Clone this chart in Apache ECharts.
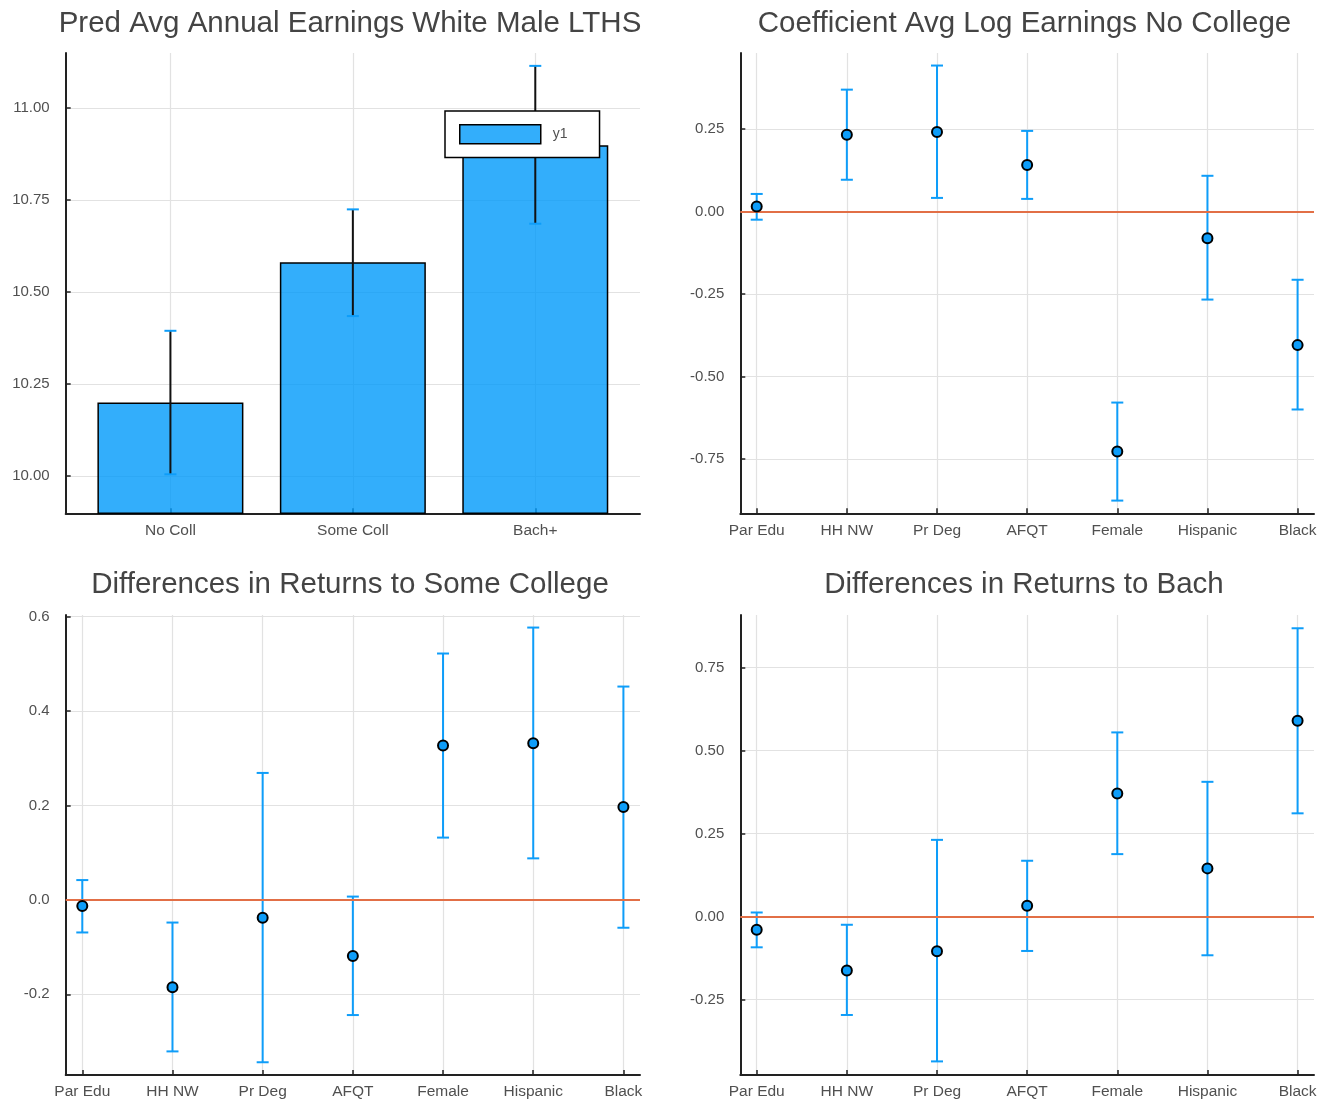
<!DOCTYPE html>
<html>
<head>
<meta charset="utf-8">
<script src="https://cdn.jsdelivr.net/npm/echarts@6/dist/echarts.min.js"></script>
<style>
html,body{margin:0;padding:0;background:#fff;}
#c{width:1333px;height:1105px;}
</style>
</head>
<body>
<div id="c"></div>
<script>
// ---- data ----
const eduCats = ['No Coll', 'Some Coll', 'Bach+'];
const predEarn = [10.200, 10.581, 10.899];
const predEarnLo = [10.005, 10.435, 10.686];
const predEarnHi = [10.395, 10.725, 11.115];

const covCats = ['Par Edu', 'HH NW', 'Pr Deg', 'AFQT', 'Female', 'Hispanic', 'Black'];

const noCollCoef = [0.015, 0.232, 0.241, 0.141, -0.727, -0.081, -0.405];
const noCollLo   = [-0.025, 0.096, 0.041, 0.038, -0.876, -0.267, -0.600];
const noCollHi   = [0.053, 0.369, 0.442, 0.244, -0.579, 0.108, -0.207];

const someCollCoef = [-0.013, -0.185, -0.038, -0.119, 0.327, 0.332, 0.197];
const someCollLo   = [-0.069, -0.321, -0.344, -0.244, 0.132, 0.088, -0.059];
const someCollHi   = [0.042, -0.048, 0.269, 0.007, 0.522, 0.577, 0.452];

const bachCoef = [-0.040, -0.163, -0.105, 0.032, 0.371, 0.145, 0.590];
const bachLo   = [-0.093, -0.297, -0.437, -0.104, 0.188, -0.117, 0.311];
const bachHi   = [0.012, -0.025, 0.231, 0.168, 0.555, 0.406, 0.869];

const ticksP1 = [10.00, 10.25, 10.50, 10.75, 11.00];
const ticksP2 = [-0.75, -0.50, -0.25, 0.00, 0.25];
const ticksP3 = [-0.2, 0.0, 0.2, 0.4, 0.6];
const ticksP4 = [-0.25, 0.00, 0.25, 0.50, 0.75];

// ---- styles ----
const FONT = "'Liberation Sans', Arial, Helvetica, sans-serif";
const BLUE = '#0e9df9';
const RED = '#e26f46';
const LABEL = '#505050';

const grids = [
  {left: 65.7, top: 53, width: 574.3, height: 460.3},
  {left: 740.3, top: 53, width: 573.7, height: 460.3},
  {left: 65.7, top: 615, width: 574.3, height: 460},
  {left: 740.3, top: 615, width: 573.7, height: 460}
];

const idx1 = eduCats.map((_, i) => i);
const idx7 = covCats.map((_, i) => i + 1);

function xAxisFor(gi, values, cats, min, max) {
  return {
    type: 'value', gridIndex: gi, min: min, max: max,
    axisLine: {show: true, onZero: false, lineStyle: {color: '#222', width: 2}},
    axisTick: {show: true, inside: true, length: 5, customValues: values, lineStyle: {color: '#222', width: 1.5}},
    axisLabel: {show: true, customValues: values, margin: 9, fontFamily: FONT, fontSize: 15.5, color: LABEL,
      formatter: v => cats[values.indexOf(Math.round(v))] || ''},
    splitLine: {show: true, lineStyle: {color: '#e2e2e2', width: 1.2}}
  };
}
function yAxisFor(gi, ticks, min, max, dec) {
  return {
    type: 'value', gridIndex: gi, min: min, max: max,
    axisLine: {show: true, onZero: false, lineStyle: {color: '#222', width: 2}},
    axisTick: {show: true, inside: true, length: 5, customValues: ticks, lineStyle: {color: '#222', width: 1.5}},
    axisLabel: {show: true, customValues: ticks, margin: 16, fontFamily: FONT, fontSize: 15, color: LABEL,
      formatter: v => v.toFixed(dec)},
    splitLine: {show: true, lineStyle: {color: '#e2e2e2', width: 1.2}}
  };
}

function errData(xs, lo, hi) { return xs.map((x, i) => [x, lo[i], hi[i]]); }
function errSeries(gi, data, stemColor, capColor) {
  return {
    type: 'custom', xAxisIndex: gi, yAxisIndex: gi, z: 3, silent: true,
    data: data,
    encode: {x: 0, y: [1, 2]},
    renderItem: function (params, api) {
      const x = api.value(0);
      const pL = api.coord([x, api.value(1)]);
      const pH = api.coord([x, api.value(2)]);
      const hw = 6;
      return {
        type: 'group',
        children: [
          {type: 'line', shape: {x1: pL[0], y1: pL[1], x2: pH[0], y2: pH[1]}, style: {stroke: stemColor, lineWidth: 2}},
          {type: 'line', shape: {x1: pL[0] - hw, y1: pL[1], x2: pL[0] + hw, y2: pL[1]}, style: {stroke: capColor, lineWidth: 2}},
          {type: 'line', shape: {x1: pH[0] - hw, y1: pH[1], x2: pH[0] + hw, y2: pH[1]}, style: {stroke: capColor, lineWidth: 2}}
        ]
      };
    }
  };
}
function pointSeries(gi, xs, ys) {
  return {
    type: 'scatter', xAxisIndex: gi, yAxisIndex: gi, z: 5, silent: true,
    symbol: 'circle', symbolSize: 10,
    itemStyle: {color: BLUE, borderColor: '#000', borderWidth: 2, opacity: 1},
    data: xs.map((x, i) => [x, ys[i]])
  };
}
function zeroLine(gi) {
  return {
    type: 'line', xAxisIndex: gi, yAxisIndex: gi, z: 4, silent: true, data: [],
    markLine: {silent: true, symbol: ['none', 'none'], label: {show: false},
      lineStyle: {color: RED, width: 2, type: 'solid'},
      data: [{yAxis: 0}]}
  };
}

const titleStyle = {fontFamily: FONT, fontSize: 29.5, fontWeight: 'normal', color: '#444'};
const titles = [
  {text: 'Pred Avg Annual Earnings White Male LTHS', left: 345, top: 4, textAlign: 'center', textStyle: titleStyle},
  {text: 'Coefficient Avg Log Earnings No College', left: 1019.5, top: 4, textAlign: 'center', textStyle: titleStyle},
  {text: 'Differences in Returns to Some College', left: 345, top: 565, textAlign: 'center', textStyle: titleStyle},
  {text: 'Differences in Returns to Bach', left: 1019, top: 565, textAlign: 'center', textStyle: titleStyle}
];

const option = {
  animation: false,
  backgroundColor: '#fff',
  title: titles,
  grid: grids,
  legend: {
    data: ['y1'], left: 445, top: 111,
    backgroundColor: '#fff', borderColor: '#000', borderWidth: 1.5, borderRadius: 0,
    padding: [13, 32, 13, 14], itemWidth: 81, itemHeight: 19, icon: 'rect',
    itemStyle: {color: 'rgba(0,154,250,0.8)', borderColor: '#000', borderWidth: 1.5},
    textStyle: {fontFamily: FONT, fontSize: 14, color: LABEL, padding: [0, 0, 0, 7]}
  },
  xAxis: [
    xAxisFor(0, idx1, eduCats, -0.574, 2.574),
    xAxisFor(1, idx7, covCats, 0.818, 7.182),
    xAxisFor(2, idx7, covCats, 0.816, 7.184),
    xAxisFor(3, idx7, covCats, 0.818, 7.182)
  ],
  yAxis: [
    yAxisFor(0, ticksP1, 9.899, 11.150, 2),
    yAxisFor(1, ticksP2, -0.9145, 0.480, 2),
    yAxisFor(2, ticksP3, -0.371, 0.6036, 1),
    yAxisFor(3, ticksP4, -0.478, 0.909, 2)
  ],
  series: [
    {
      name: 'y1', type: 'bar', xAxisIndex: 0, yAxisIndex: 0, barWidth: 146, z: 2, silent: true,
      itemStyle: {color: 'rgba(0,154,250,0.8)', borderColor: '#000', borderWidth: 1.5},
      data: idx1.map((x, i) => [x, predEarn[i]])
    },
    errSeries(0, errData(idx1, predEarnLo, predEarnHi), '#111', BLUE),

    errSeries(1, errData(idx7, noCollLo, noCollHi), BLUE, BLUE),
    zeroLine(1),
    pointSeries(1, idx7, noCollCoef),

    errSeries(2, errData(idx7, someCollLo, someCollHi), BLUE, BLUE),
    zeroLine(2),
    pointSeries(2, idx7, someCollCoef),

    errSeries(3, errData(idx7, bachLo, bachHi), BLUE, BLUE),
    zeroLine(3),
    pointSeries(3, idx7, bachCoef)
  ]
};

const chart = echarts.init(document.getElementById('c'), null, {renderer: 'canvas'});
chart.setOption(option);
</script>
</body>
</html>
